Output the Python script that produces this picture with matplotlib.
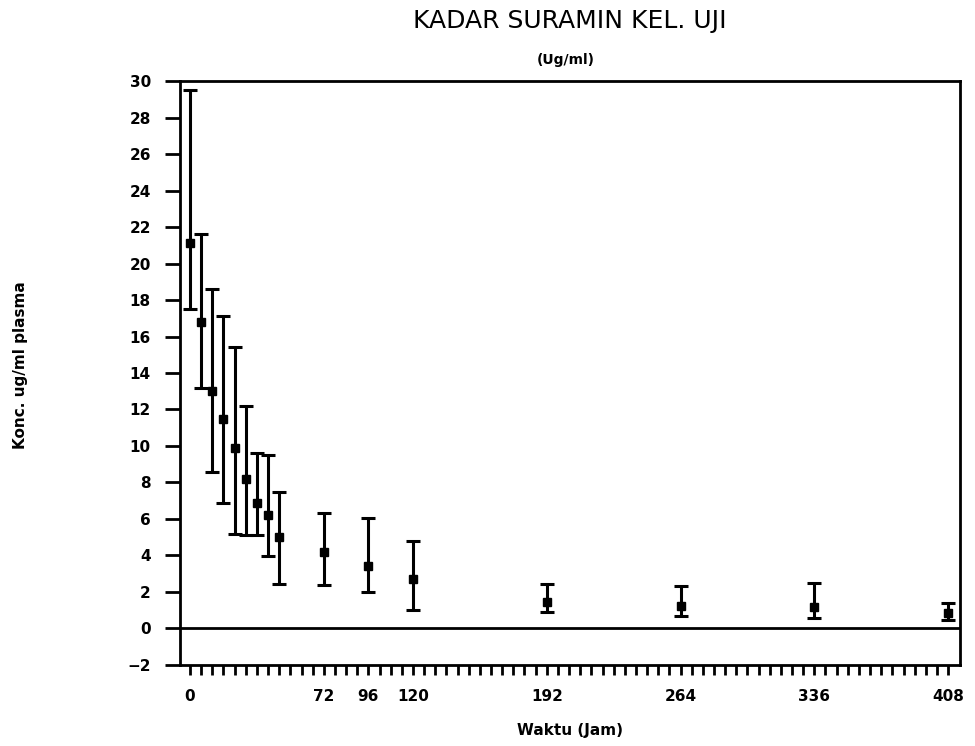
import matplotlib.pyplot as plt
import numpy as np

# waktu (jam) dan kadar suramin (ug/ml)
waktu = [0, 6, 12, 18, 24, 30, 36, 42, 48, 72, 96, 120, 192, 264, 336, 408]
rata2 = [21.1, 16.8, 13.0, 11.5, 9.9, 8.2, 6.9, 6.2, 5.0, 4.2, 3.4, 2.7, 1.45, 1.25, 1.15, 0.85]
atas = [29.5, 21.6, 18.6, 17.1, 15.4, 12.2, 9.6, 9.5, 7.5, 6.35, 6.05, 4.8, 2.45, 2.35, 2.5, 1.4]
bawah = [17.5, 13.2, 8.6, 6.9, 5.2, 5.1, 5.1, 3.95, 2.45, 2.4, 2.0, 1.0, 0.9, 0.7, 0.6, 0.45]

x_label_ticks = [0, 72, 96, 120, 192, 264, 336, 408]
y_ticks = np.arange(-2, 31, 2)

rata2 = np.array(rata2)
err = [rata2 - np.array(bawah), np.array(atas) - rata2]

fig = plt.figure(figsize=(9.75, 7.46), dpi=100)
ax = fig.add_axes([0.1846, 0.1086, 0.80, 0.7828])

ax.errorbar(waktu, rata2, yerr=err, fmt="s", color="black", ms=6,
            ecolor="black", elinewidth=2.2, capsize=5, capthick=2.2)
ax.axhline(0, color="black", lw=2)

ax.set_xlim(-5.4, 414.4)
ax.set_ylim(-2, 30)

ax.set_xticks(x_label_ticks)
ax.set_xticks(np.arange(0, 409, 6), minor=True)
ax.set_yticks(y_ticks)
ax.tick_params(axis="x", which="both", direction="out", length=7, width=2, pad=10)
ax.tick_params(axis="y", direction="out", length=11, width=2, pad=10)
for lab in ax.get_xticklabels() + ax.get_yticklabels():
    lab.set_fontweight("bold")
    lab.set_fontsize(11)

for s in ax.spines.values():
    s.set_linewidth(2)

fig.text(0.584, 0.972, "KADAR SURAMIN KEL. UJI", ha="center", va="center", fontsize=18)
fig.text(0.58, 0.92, "(Ug/ml)", ha="center", va="center", fontsize=10, fontweight="bold")
ax.set_xlabel("Waktu (Jam)", fontsize=11, fontweight="bold", labelpad=14)
fig.text(0.021, 0.51, "Konc. ug/ml plasma", rotation=90, ha="center", va="center",
         fontsize=11, fontweight="bold")

plt.savefig("out.png", dpi=100)
